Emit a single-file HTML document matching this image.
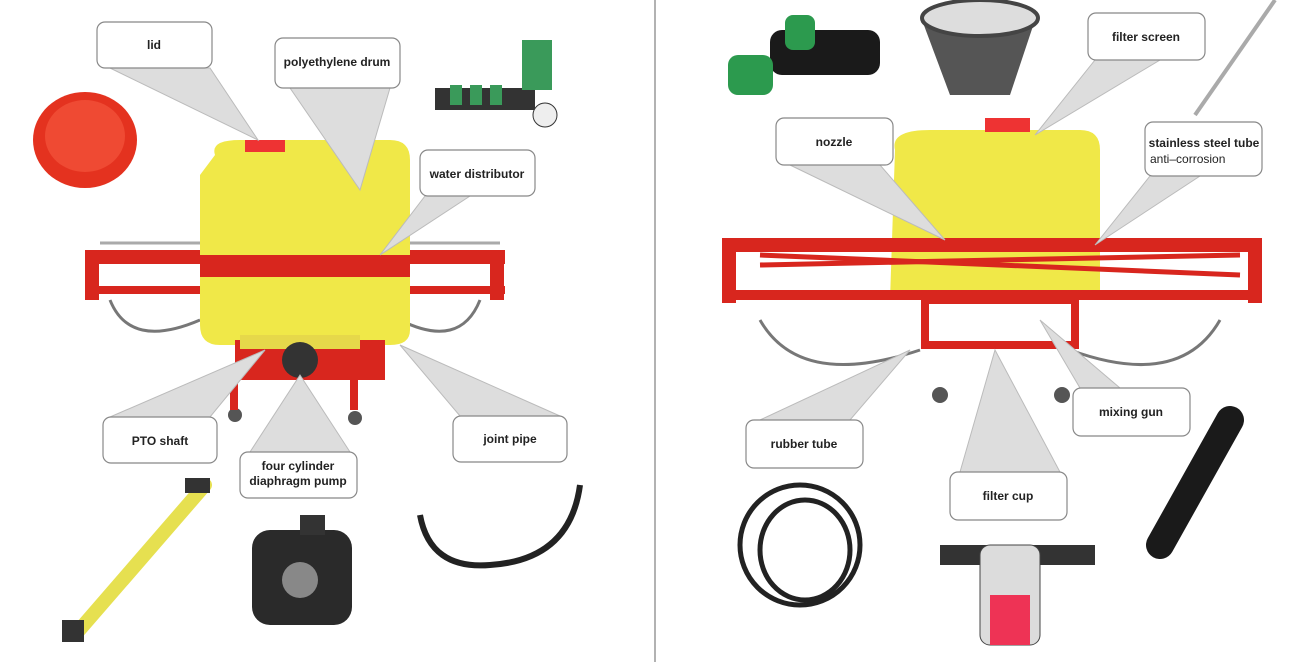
<!DOCTYPE html>
<html><head><meta charset="utf-8"><style>
html,body{margin:0;padding:0;background:#fff}
svg{display:block}
text{font-family:"Liberation Sans",sans-serif;font-weight:bold;font-size:12px;fill:#222}
.box{fill:#fff;stroke:#888;stroke-width:1.2}
.tri{fill:#ddd;stroke:#bbb;stroke-width:1}
</style></head><body>
<svg width="1310" height="662" viewBox="0 0 1310 662" xmlns="http://www.w3.org/2000/svg">
<rect width="1310" height="662" fill="#fff"/>
<line x1="655" y1="0" x2="655" y2="662" stroke="#999" stroke-width="1.5"/>

<!-- ===== LEFT MACHINE ===== -->
<!-- booms -->
<rect x="85" y="250" width="420" height="14" fill="#d8261e"/>
<rect x="85" y="250" width="14" height="50" fill="#d8261e"/>
<rect x="490" y="250" width="14" height="50" fill="#d8261e"/>
<rect x="85" y="286" width="420" height="8" fill="#d8261e"/>
<line x1="100" y1="243" x2="500" y2="243" stroke="#aaa" stroke-width="3"/>
<path d="M110 300 Q130 350 200 320" stroke="#777" stroke-width="3" fill="none"/>
<path d="M480 300 Q460 350 400 320" stroke="#777" stroke-width="3" fill="none"/>
<!-- tank -->
<path d="M215 155 Q210 140 240 140 L390 140 Q410 140 410 160 L410 330 Q410 345 390 345 L220 345 Q200 345 200 325 L200 175 Z" fill="#f0e848"/>
<rect x="245" y="140" width="40" height="12" fill="#e33"/>
<rect x="200" y="255" width="210" height="22" fill="#d8261e"/>
<rect x="235" y="340" width="150" height="40" fill="#d8261e"/>
<rect x="240" y="335" width="120" height="14" fill="#e6d84a"/>
<circle cx="300" cy="360" r="18" fill="#333"/>
<circle cx="235" cy="415" r="7" fill="#555"/><circle cx="355" cy="418" r="7" fill="#555"/>
<rect x="230" y="380" width="8" height="30" fill="#d8261e"/><rect x="350" y="380" width="8" height="30" fill="#d8261e"/>
<!-- lid -->
<ellipse cx="85" cy="140" rx="52" ry="48" fill="#e4321f"/>
<ellipse cx="85" cy="136" rx="40" ry="36" fill="#ef4a33"/>
<!-- distributor -->
<rect x="435" y="88" width="100" height="22" fill="#333"/>
<rect x="450" y="85" width="12" height="20" fill="#3a9a5a"/><rect x="470" y="85" width="12" height="20" fill="#3a9a5a"/><rect x="490" y="85" width="12" height="20" fill="#3a9a5a"/>
<rect x="522" y="40" width="30" height="50" fill="#3a9a5a"/>
<circle cx="545" cy="115" r="12" fill="#eee" stroke="#333"/>
<!-- PTO -->
<path d="M75 635 L205 485" stroke="#e6e050" stroke-width="14" stroke-linecap="round"/>
<rect x="185" y="478" width="25" height="15" fill="#333"/>
<rect x="62" y="620" width="22" height="22" fill="#333"/>
<!-- pump -->
<rect x="252" y="530" width="100" height="95" rx="18" fill="#2a2a2a"/>
<circle cx="300" cy="580" r="18" fill="#888"/>
<rect x="300" y="515" width="25" height="20" fill="#333"/>
<!-- joint pipe -->
<path d="M420 515 Q430 570 490 565 Q570 560 580 485" stroke="#222" stroke-width="6" fill="none"/>

<!-- left callouts -->
<polygon class="tri" points="110,68 210,68 258,140"/>
<polygon class="tri" points="290,88 390,88 360,190"/>
<polygon class="tri" points="425,196 470,196 380,255"/>
<polygon class="tri" points="110,417 210,417 265,350"/>
<polygon class="tri" points="250,452 350,452 300,375"/>
<polygon class="tri" points="460,416 560,416 400,345"/>

<rect class="box" x="97" y="22" width="115" height="46" rx="8"/><text x="154" y="49" text-anchor="middle">lid</text>
<rect class="box" x="275" y="38" width="125" height="50" rx="8"/><text x="337" y="66" text-anchor="middle">polyethylene drum</text>
<rect class="box" x="420" y="150" width="115" height="46" rx="8"/><text x="477" y="178" text-anchor="middle">water distributor</text>
<rect class="box" x="103" y="417" width="114" height="46" rx="8"/><text x="160" y="445" text-anchor="middle">PTO  shaft</text>
<rect class="box" x="240" y="452" width="117" height="46" rx="8"/><text x="298" y="470" text-anchor="middle">four cylinder</text><text x="298" y="485" text-anchor="middle">diaphragm pump</text>
<rect class="box" x="453" y="416" width="114" height="46" rx="8"/><text x="510" y="443" text-anchor="middle">joint pipe</text>

<!-- ===== RIGHT MACHINE ===== -->
<path d="M895 150 Q890 130 930 130 L1080 130 Q1100 130 1100 150 L1100 300 L890 300 Z" fill="#f0e848"/>
<rect x="985" y="118" width="45" height="14" fill="#e33"/>
<rect x="722" y="238" width="540" height="14" fill="#d8261e"/>
<rect x="722" y="238" width="14" height="65" fill="#d8261e"/>
<rect x="1248" y="238" width="14" height="65" fill="#d8261e"/>
<rect x="722" y="290" width="540" height="10" fill="#d8261e"/>
<line x1="760" y1="265" x2="1240" y2="255" stroke="#d8261e" stroke-width="5"/>
<line x1="760" y1="255" x2="1240" y2="275" stroke="#d8261e" stroke-width="5"/>
<rect x="925" y="300" width="150" height="45" fill="none" stroke="#d8261e" stroke-width="8"/>
<path d="M760 320 Q800 390 920 350" stroke="#777" stroke-width="3" fill="none"/>
<path d="M1220 320 Q1180 390 1070 350" stroke="#777" stroke-width="3" fill="none"/>
<circle cx="940" cy="395" r="8" fill="#555"/><circle cx="1062" cy="395" r="8" fill="#555"/>
<!-- nozzle part -->
<rect x="770" y="30" width="110" height="45" rx="12" fill="#1a1a1a"/>
<rect x="785" y="15" width="30" height="35" rx="8" fill="#2c9a4e"/>
<rect x="728" y="55" width="45" height="40" rx="10" fill="#2c9a4e"/>
<!-- filter screen part -->
<polygon points="922,20 1035,20 1010,95 950,95" fill="#555"/>
<ellipse cx="980" cy="18" rx="58" ry="18" fill="#ddd" stroke="#444" stroke-width="4"/>
<line x1="1275" y1="0" x2="1195" y2="115" stroke="#aaa" stroke-width="4"/>
<!-- rubber tube -->
<ellipse cx="800" cy="545" rx="60" ry="60" fill="none" stroke="#222" stroke-width="5"/>
<ellipse cx="805" cy="550" rx="45" ry="50" fill="none" stroke="#222" stroke-width="5"/>
<!-- filter cup -->
<rect x="940" y="545" width="155" height="20" fill="#333"/>
<rect x="980" y="545" width="60" height="100" rx="10" fill="#dcdcdc" stroke="#444"/>
<rect x="990" y="595" width="40" height="50" fill="#e35"/>
<!-- mixing gun -->
<path d="M1230 420 L1160 545" stroke="#1a1a1a" stroke-width="28" stroke-linecap="round"/>

<!-- right callouts -->
<polygon class="tri" points="790,165 880,165 945,240"/>
<polygon class="tri" points="1095,60 1160,60 1035,135"/>
<polygon class="tri" points="1150,176 1200,176 1095,245"/>
<polygon class="tri" points="760,420 850,420 910,350"/>
<polygon class="tri" points="960,472 1060,472 995,350"/>
<polygon class="tri" points="1080,388 1120,388 1040,320"/>

<rect class="box" x="776" y="118" width="117" height="47" rx="8"/><text x="834" y="146" text-anchor="middle">nozzle</text>
<rect class="box" x="1088" y="13" width="117" height="47" rx="8"/><text x="1146" y="41" text-anchor="middle">filter screen</text>
<rect class="box" x="1145" y="122" width="117" height="54" rx="8"/><text x="1204" y="147" text-anchor="middle">stainless steel tube</text><text x="1150" y="163" style="font-weight:normal">anti–corrosion</text>
<rect class="box" x="746" y="420" width="117" height="48" rx="8"/><text x="804" y="448" text-anchor="middle">rubber tube</text>
<rect class="box" x="950" y="472" width="117" height="48" rx="8"/><text x="1008" y="500" text-anchor="middle">filter cup</text>
<rect class="box" x="1073" y="388" width="117" height="48" rx="8"/><text x="1131" y="416" text-anchor="middle">mixing gun</text>
</svg>
</body></html>
